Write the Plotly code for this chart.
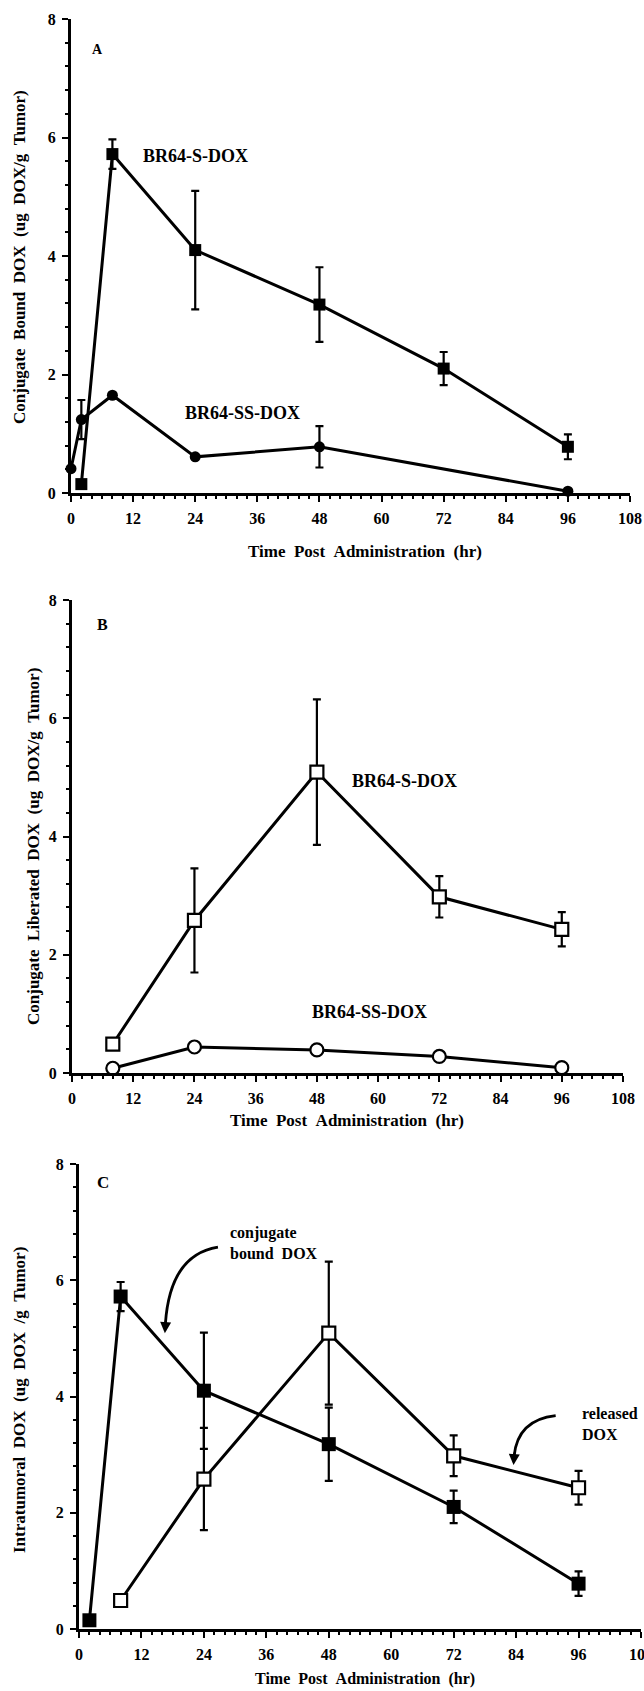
import plotly.graph_objects as go

# ---------------- data ----------------
hours_ticks = [0, 12, 24, 36, 48, 60, 72, 84, 96, 108]
conc_ticks = [0, 2, 4, 6, 8]

# Panel A: conjugate-bound DOX
s_bound_x = [2, 8, 24, 48, 72, 96]
s_bound_y = [0.15, 5.72, 4.10, 3.18, 2.10, 0.78]
s_bound_err = [0.0, 0.25, 1.00, 0.63, 0.28, 0.21]

ss_bound_x = [0, 2, 8, 24, 48, 96]
ss_bound_y = [0.41, 1.24, 1.65, 0.61, 0.78, 0.03]
ss_bound_err = [0.0, 0.33, 0.0, 0.0, 0.35, 0.0]

# Panel B: conjugate-liberated DOX
lib_x = [8, 24, 48, 72, 96]
s_lib_y = [0.49, 2.58, 5.09, 2.98, 2.43]
s_lib_err = [0.0, 0.88, 1.23, 0.35, 0.29]
ss_lib_y = [0.08, 0.44, 0.39, 0.28, 0.09]

W, H = 644, 1691
FONT = "Liberation Serif"
BLACK = "black"


def xdom(l, r):
    return [l / W, r / W]


def ydom(top, bottom):
    return [1 - bottom / H, 1 - top / H]


panels = {
    "": dict(x=(71, 630), y=(19, 493)),
    "2": dict(x=(72, 623), y=(600, 1073)),
    "3": dict(x=(79, 641), y=(1164, 1629)),
}

fig = go.Figure()


def line_trace(x, y, err, axis, symbol, size, filled):
    marker = dict(
        symbol=symbol,
        size=size,
        color=BLACK if filled else "white",
        line=dict(color=BLACK, width=0 if filled else 2.2),
    )
    kw = {}
    if err is not None:
        kw["error_y"] = dict(type="data", array=err, symmetric=True,
                             color=BLACK, thickness=2.2, width=4)
    fig.add_trace(go.Scatter(
        x=x, y=y, mode="lines+markers",
        line=dict(color=BLACK, width=3),
        marker=marker, cliponaxis=False, showlegend=False,
        xaxis="x" + axis, yaxis="y" + axis, **kw))


# Panel A
line_trace(s_bound_x, s_bound_y, s_bound_err, "", "square", 12, True)
line_trace(ss_bound_x, ss_bound_y, ss_bound_err, "", "circle", 11, True)
# Panel B
line_trace(lib_x, s_lib_y, s_lib_err, "2", "square", 13, False)
line_trace(lib_x, ss_lib_y, None, "2", "circle", 13, False)
# Panel C
line_trace(lib_x, s_lib_y, s_lib_err, "3", "square", 13, False)
line_trace(s_bound_x, s_bound_y, s_bound_err, "3", "square", 14, True)

layout = dict(
    width=W, height=H,
    margin=dict(l=0, r=0, t=0, b=0, autoexpand=False),
    paper_bgcolor="white", plot_bgcolor="white",
    showlegend=False,
)

tickfont = dict(family=FONT, size=16, color=BLACK, weight="bold")
for ax, p in panels.items():
    layout["xaxis" + ax] = dict(
        domain=xdom(*p["x"]), range=[0, 108], anchor="y" + ax,
        automargin=False, ticklabeloverflow="allow",
        tickvals=hours_ticks, ticks="outside", ticklen=6, tickwidth=2,
        tickcolor=BLACK, showline=True, linewidth=3, linecolor=BLACK,
        showgrid=False, zeroline=False, tickfont=tickfont,
        ticklabelstandoff=3,
        minor=dict(dtick=2, ticks="outside", ticklen=3, tickwidth=1.8,
                   tickcolor=BLACK, showgrid=False),
    )
    layout["yaxis" + ax] = dict(
        domain=ydom(*p["y"]), range=[0, 8], anchor="x" + ax,
        automargin=False, ticklabeloverflow="allow",
        tickvals=conc_ticks, ticks="outside", ticklen=6, tickwidth=2,
        tickcolor=BLACK, showline=True, linewidth=3, linecolor=BLACK,
        showgrid=False, zeroline=False, tickfont=tickfont,
        ticklabelstandoff=3,
        minor=dict(dtick=0.4, ticks="outside", ticklen=3, tickwidth=1.8,
                   tickcolor=BLACK, showgrid=False),
    )
fig.update_layout(**layout)

S = "\u00a0\u00a0"


def bold(size):
    return dict(family=FONT, size=size, color=BLACK, weight="bold")


def data_text(txt, x, y, ax, size, xanchor="center"):
    fig.add_annotation(text=txt, x=x, y=y, xref="x" + ax, yref="y" + ax,
                       showarrow=False, font=bold(size), xanchor=xanchor,
                       yanchor="middle", align="left")


def paper_text(txt, px, py, size, angle=0):
    fig.add_annotation(text=txt, x=px / W, y=1 - py / H, xref="paper",
                       yref="paper", showarrow=False, font=bold(size),
                       textangle=angle, xanchor="center", yanchor="middle")


# panel letters
data_text("A", 5.2, 7.48, "", 14)
data_text("B", 5.9, 7.58, "2", 16)
data_text("C", 4.6, 7.69, "3", 17)

# series labels
data_text("BR64-S-DOX", 24.1, 5.69, "", 18)
data_text("BR64-SS-DOX", 33.2, 1.35, "", 18)
data_text("BR64-S-DOX", 65.1, 4.94, "2", 18)
data_text("BR64-SS-DOX", 58.4, 1.03, "2", 18)

# axis titles
xt = "Time" + S + "Post" + S + "Administration" + S + "(hr)"
paper_text(xt, 365, 551, 17)
paper_text(xt, 347, 1120, 17)
paper_text(xt, 365, 1679, 16)
paper_text("Conjugate" + S + "Bound" + S + "DOX" + S + "(ug" + S + "DOX/g" + S + "Tumor)",
           20, 257, 17, -90)
paper_text("Conjugate" + S + "Liberated" + S + "DOX" + S + "(ug" + S + "DOX/g" + S + "Tumor)",
           33, 847, 17, -90)
paper_text("Intratumoral" + S + "DOX" + S + "(ug" + S + "DOX" + S + "/g" + S + "Tumor)",
           19, 1400, 17, -90)

# panel C callouts
data_text("conjugate<br>bound" + S + "DOX", 28.6, 6.64, "3", 16, xanchor="left")
data_text("released<br>DOX", 96.2, 3.53, "3", 16, xanchor="left")

fig.add_shape(type="path", xref="x3", yref="y3",
              path="M 26.7,6.57 Q 17.5,6.44 16.6,5.25",
              line=dict(color=BLACK, width=2.8))
fig.add_annotation(x=16.5, y=5.09, xref="x3", yref="y3", ax=1, ay=-14,
                   text="", showarrow=True, arrowhead=2, arrowsize=1.1,
                   arrowwidth=2, arrowcolor=BLACK)
fig.add_shape(type="path", xref="x3", yref="y3",
              path="M 91.6,3.67 Q 84.3,3.6 83.6,2.97",
              line=dict(color=BLACK, width=2.8))
fig.add_annotation(x=83.5, y=2.82, xref="x3", yref="y3", ax=1, ay=-14,
                   text="", showarrow=True, arrowhead=2, arrowsize=1.1,
                   arrowwidth=2, arrowcolor=BLACK)

fig.write_html("out.html")
